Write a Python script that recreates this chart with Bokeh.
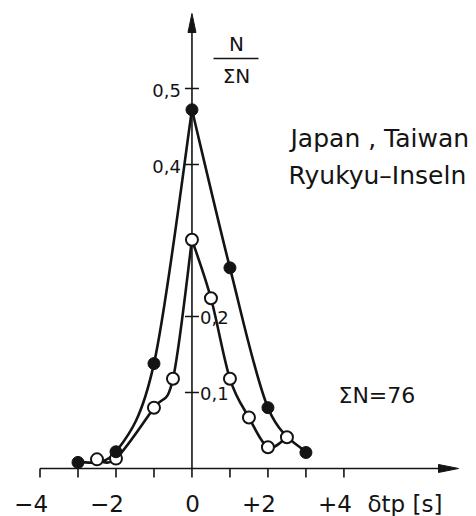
from bokeh.plotting import figure
from bokeh.models import Range1d
from bokeh.embed import file_html
from bokeh.resources import INLINE
from bokeh.core.properties import value

# Relative frequency N/ΣN of P travel-time residuals δtp (seconds)
# 1 s classes (filled dots) and 0.5 s classes (open dots)
full_dt = [-3, -2, -1, 0, 1, 2, 3]
full_freq = [0.008, 0.022, 0.138, 0.472, 0.264, 0.080, 0.021]
half_dt = [-2.5, -2, -1, -0.5, 0, 0.5, 1, 1.5, 2, 2.5]
half_freq = [0.012, 0.013, 0.080, 0.118, 0.301, 0.224, 0.118, 0.067, 0.028, 0.041]

x_ticks = [-4, -3, -2, -1, 0, 1, 2, 3, 4]
x_label_pos = [-4, -2, 0, 2, 4]
x_labels = ["−4", "−2", "0", "+2", "+4"]
y_ticks = [0.1, 0.2, 0.4, 0.5]
y_left_pos = [0.4, 0.5]
y_left_labels = ["0,4", "0,5"]
y_right_pos = [0.1, 0.2]
y_right_labels = ["0,1", "0,2"]

W, H = 476, 516
X0, X1 = -5.04, 7.49
Y0, Y1 = -0.0632, 0.6158
SX = W / (X1 - X0)   # pixels per second
SY = H / (Y1 - Y0)   # pixels per unit frequency

INK = "#141414"
FONT = value("DejaVu Sans")


def px_x(px):
    return X0 + px / SX


def px_y(py):
    return Y1 - py / SY


p = figure(width=W, height=H, x_range=Range1d(X0, X1), y_range=Range1d(Y0, Y1),
           output_backend="svg", toolbar_location=None, min_border=0)
p.axis.visible = False
p.grid.visible = False
p.outline_line_color = None
p.background_fill_color = "white"
p.border_fill_color = "white"

# axes with arrow heads
x_end = px_x(458)
y_end = px_y(13)
head_len_x, head_half_x = 20 / SX, 4 / SY
head_len_y, head_half_y = 19 / SY, 4 / SX
p.segment(x0=[x_ticks[0]], y0=[0], x1=[x_end - head_len_x], y1=[0], line_color=INK, line_width=1.6)
p.segment(x0=[0], y0=[0], x1=[0], y1=[y_end - head_len_y], line_color=INK, line_width=1.6)
p.patch(x=[x_end, x_end - head_len_x, x_end - head_len_x],
        y=[0, head_half_x, -head_half_x], fill_color=INK, line_color=INK)
p.patch(x=[0, head_half_y, -head_half_y],
        y=[y_end, y_end - head_len_y, y_end - head_len_y], fill_color=INK, line_color=INK)

# ticks
p.segment(x0=x_ticks, y0=[0] * len(x_ticks), x1=x_ticks, y1=[-9 / SY] * len(x_ticks),
          line_color=INK, line_width=1.6)
p.segment(x0=[-7 / SX] * len(y_ticks), y0=y_ticks, x1=[7 / SX] * len(y_ticks), y1=y_ticks,
          line_color=INK, line_width=1.6)

# tick labels
p.text(x=x_label_pos, y=[0] * len(x_label_pos), text=x_labels, text_font=FONT,
       text_font_size="23px", text_color=INK, text_align="right",
       text_baseline="middle", x_offset=8, y_offset=35)
p.text(x=[0] * 2, y=y_left_pos, text=y_left_labels, text_font=FONT,
       text_font_size="18px", text_color=INK, text_align="right",
       text_baseline="middle", x_offset=-11, y_offset=2)
p.text(x=[0] * 2, y=y_right_pos, text=y_right_labels, text_font=FONT,
       text_font_size="18px", text_color=INK, text_align="left",
       text_baseline="middle", x_offset=8, y_offset=1)
p.text(x=[px_x(367)], y=[px_y(503)], text=["δtp [s]"], text_font=FONT,
       text_font_size="23px", text_color=INK, text_align="left", text_baseline="middle")

# y-axis quantity N / ΣN
p.text(x=[px_x(236)] * 2, y=[px_y(43), px_y(75.5)], text=["N", "ΣN"], text_font=FONT,
       text_font_size="20px", text_color=INK, text_align="center", text_baseline="middle")
p.segment(x0=[px_x(213)], y0=[px_y(58)], x1=[px_x(258)], y1=[px_y(58)], line_color=INK, line_width=1.5)

# region and sample size
p.text(x=[px_x(290), px_x(288)], y=[px_y(137.5), px_y(175)],
       text=["Japan , Taiwan", "Ryukyu–Inseln"], text_font=FONT,
       text_font_size="25px", text_color=INK, text_align="left", text_baseline="middle")
p.text(x=[px_x(338)], y=[px_y(394.5)], text=["ΣN=76"], text_font=FONT,
       text_font_size="22px", text_color=INK, text_align="left", text_baseline="middle")


def smooth(xs, ys):
    """Catmull-Rom segments expressed as cubic Bezier control points."""
    n = len(xs)
    out = {k: [] for k in ("x0", "y0", "x1", "y1", "cx0", "cy0", "cx1", "cy1")}
    for i in range(n - 1):
        a, b = max(i - 1, 0), min(i + 2, n - 1)
        out["x0"].append(xs[i]); out["y0"].append(ys[i])
        out["x1"].append(xs[i + 1]); out["y1"].append(ys[i + 1])
        out["cx0"].append(xs[i] + (xs[i + 1] - xs[a]) / 6)
        out["cy0"].append(ys[i] + (ys[i + 1] - ys[a]) / 6)
        out["cx1"].append(xs[i + 1] - (xs[b] - xs[i]) / 6)
        out["cy1"].append(ys[i + 1] - (ys[b] - ys[i]) / 6)
    return out


def draw_curve(xs, ys):
    k = ys.index(max(ys))  # sharp peak: smooth each flank separately
    for sx, sy in ((xs[:k + 1], ys[:k + 1]), (xs[k:], ys[k:])):
        p.bezier(**smooth(sx, sy), line_color=INK, line_width=2.6)


draw_curve(half_dt, half_freq)
draw_curve(full_dt, full_freq)

p.scatter(half_dt, half_freq, size=12, marker="circle", fill_color="white",
          line_color=INK, line_width=2)
p.scatter(full_dt, full_freq, size=12, marker="circle", fill_color=INK,
          line_color=INK, line_width=1)

open("out.html", "w").write(file_html(p, INLINE))
